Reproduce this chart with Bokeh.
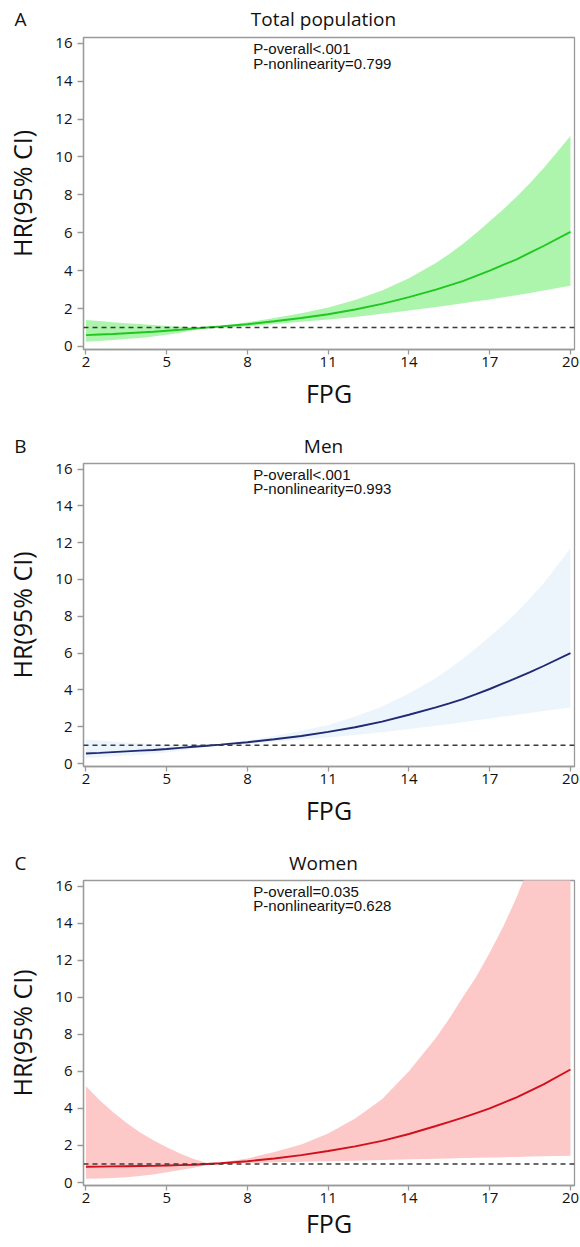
from bokeh.plotting import figure
from bokeh.models import Label, Span
from bokeh.layouts import column
from bokeh.embed import file_html
from bokeh.resources import INLINE

# ---- data ----
fpg = [2, 2.5, 3, 3.5, 4, 4.5, 5, 5.5, 6, 6.5, 7, 8, 9, 10, 11, 12, 13, 14,
       15, 15.5, 16, 16.5, 17, 17.5, 18, 18.5, 19, 20]

total_hr = [0.60, 0.63, 0.66, 0.70, 0.74, 0.78, 0.83, 0.88, 0.94, 1.00, 1.05, 1.17, 1.33, 1.50, 1.70, 1.95, 2.25, 2.60,
            3.00, 3.22, 3.45, 3.72, 4.00, 4.30, 4.60, 4.95, 5.30, 6.05]
total_lo = [0.25, 0.29, 0.34, 0.39, 0.45, 0.53, 0.62, 0.73, 0.85, 0.98, 1.02, 1.07, 1.18, 1.30, 1.42, 1.56, 1.72, 1.90,
            2.08, 2.18, 2.28, 2.38, 2.48, 2.59, 2.70, 2.82, 2.95, 3.20]
total_hi = [1.40, 1.34, 1.28, 1.23, 1.18, 1.13, 1.08, 1.05, 1.02, 1.01, 1.08, 1.28, 1.50, 1.75, 2.05, 2.45, 2.95, 3.60,
            4.40, 4.88, 5.40, 5.98, 6.60, 7.23, 7.90, 8.63, 9.40, 11.10]

men_hr = [0.55, 0.58, 0.62, 0.66, 0.70, 0.74, 0.79, 0.85, 0.91, 0.97, 1.03, 1.16, 1.32, 1.50, 1.72, 1.97, 2.28, 2.65,
          3.05, 3.27, 3.50, 3.77, 4.05, 4.35, 4.65, 4.97, 5.30, 6.00]
men_lo = [0.30, 0.34, 0.38, 0.42, 0.47, 0.53, 0.60, 0.70, 0.82, 0.93, 0.99, 1.07, 1.18, 1.30, 1.42, 1.55, 1.70, 1.88,
          2.05, 2.15, 2.25, 2.35, 2.45, 2.55, 2.65, 2.75, 2.85, 3.05]
men_hi = [1.30, 1.25, 1.20, 1.15, 1.10, 1.06, 1.02, 1.01, 1.00, 1.01, 1.07, 1.26, 1.50, 1.78, 2.10, 2.55, 3.10, 3.80,
          4.65, 5.15, 5.70, 6.28, 6.90, 7.53, 8.20, 8.98, 9.80, 11.70]

women_hr = [0.85, 0.86, 0.87, 0.88, 0.89, 0.90, 0.92, 0.94, 0.96, 1.00, 1.04, 1.15, 1.30, 1.48, 1.70, 1.95, 2.25, 2.62,
            3.05, 3.27, 3.50, 3.75, 4.00, 4.30, 4.60, 4.95, 5.30, 6.10]
women_lo = [0.20, 0.22, 0.25, 0.29, 0.35, 0.44, 0.55, 0.67, 0.80, 0.95, 1.00, 1.05, 1.09, 1.12, 1.15, 1.18, 1.22, 1.25,
            1.28, 1.30, 1.32, 1.34, 1.35, 1.37, 1.38, 1.40, 1.42, 1.45]
women_hi = [5.20, 4.45, 3.80, 3.22, 2.72, 2.28, 1.90, 1.57, 1.27, 1.05, 1.08, 1.30, 1.65, 2.05, 2.65, 3.45, 4.50, 6.00,
            7.80, 8.85, 10.0, 11.1, 12.4, 13.8, 15.4, 17.2, 19.3, 24.0]

x_ticks = [2, 5, 8, 11, 14, 17, 20]
y_ticks = [0, 2, 4, 6, 8, 10, 12, 14, 16]

panel_letters = ["A", "B", "C"]
panel_titles = ["Total population", "Men", "Women"]
p_overall = ["P-overall<.001", "P-overall<.001", "P-overall=0.035"]
p_nonlin = ["P-nonlinearity=0.799", "P-nonlinearity=0.993", "P-nonlinearity=0.628"]

FONT = "Open Sans"
NOTE_FONT = "Liberation Sans"
GRAY = "#9a9a9a"
INK = "#111111"
W = 580
LEFT = 83
RIGHT = 6


def header(letter, title, height, top):
    fh = height - top
    h = figure(width=W, height=height, x_range=(LEFT, W - RIGHT), y_range=(0, fh),
               output_backend="svg", toolbar_location=None,
               x_axis_location=None, y_axis_location="left",
               min_border_left=LEFT, min_border_right=RIGHT,
               min_border_top=top, min_border_bottom=0)
    h.outline_line_color = None
    h.grid.visible = False
    ax = h.yaxis
    ax.ticker = []
    ax.axis_line_color = None
    ax.major_tick_line_color = None
    ax.minor_tick_line_color = None
    ax.major_tick_out = 0
    ax.major_tick_in = 0
    ax.major_label_text_font_size = "0px"
    ax.major_label_standoff = 0
    ax.axis_label = letter
    ax.axis_label_orientation = "horizontal"
    ax.axis_label_standoff = 57
    ax.axis_label_text_font = FONT
    ax.axis_label_text_font_size = "19px"
    ax.axis_label_text_font_style = "normal"
    ax.axis_label_text_color = INK
    h.add_layout(Label(x=323, y=fh / 2, text=title, text_font=FONT,
                       text_font_size="19px", text_baseline="middle",
                       text_align="center", text_color=INK))
    return h


def panel(pov, pnl, hr, lo, hi, line_color, band_color, height, top, bottom, xlab_standoff):
    p = figure(width=W, height=height, x_range=(1.91, 20.15), y_range=(-0.16, 16.3),
               output_backend="svg", toolbar_location=None,
               min_border_left=LEFT, min_border_right=RIGHT,
               min_border_top=top, min_border_bottom=bottom)
    p.xgrid.visible = False
    p.ygrid.visible = False
    p.outline_line_color = GRAY
    p.outline_line_width = 1.3

    p.varea(x=fpg, y1=lo, y2=hi, fill_color=band_color, fill_alpha=1.0)
    p.add_layout(Span(location=1, dimension="width", line_color="#3a3a3a",
                      line_dash="5 4", line_width=1.5))
    p.line(x=fpg, y=hr, line_color=line_color, line_width=1.9)

    for ax in (p.xaxis, p.yaxis):
        ax.axis_line_color = GRAY
        ax.axis_line_width = 1.3
        ax.major_tick_line_color = GRAY
        ax.major_tick_line_width = 1.3
        ax.minor_tick_line_color = None
        ax.major_tick_in = 0
        ax.major_label_text_font = FONT
        ax.major_label_text_font_size = "15px"
        ax.major_label_text_color = INK
        ax.axis_label_text_font = FONT
        ax.axis_label_text_font_size = "25px"
        ax.axis_label_text_font_style = "normal"
        ax.axis_label_text_color = INK
    p.xaxis.major_tick_out = 5
    p.yaxis.major_tick_out = 6
    p.xaxis.ticker = x_ticks
    p.yaxis.ticker = y_ticks
    p.xaxis.axis_label = "FPG"
    p.yaxis.axis_label = "HR(95% CI)"
    p.xaxis.axis_label_standoff = xlab_standoff
    p.yaxis.axis_label_standoff = 13
    p.xaxis.major_label_standoff = 2
    p.yaxis.major_label_standoff = 5

    p.add_layout(Label(x=8.22, y=15.72, text=pov, text_font=NOTE_FONT,
                       text_font_size="15px", text_baseline="middle",
                       text_align="left", text_color=INK))
    p.add_layout(Label(x=8.22, y=14.93, text=pnl, text_font=NOTE_FONT,
                       text_font_size="15px", text_baseline="middle",
                       text_align="left", text_color=INK))
    return p


hA = header(panel_letters[0], panel_titles[0], 32, 4)
pA = panel(p_overall[0], p_nonlin[0], total_hr, total_lo, total_hi,
           "#1fc81f", "#adf5ad", 400, 5, 83, 6)
hB = header(panel_letters[1], panel_titles[1], 26, 0)
pB = panel(p_overall[1], p_nonlin[1], men_hr, men_lo, men_hi,
           "#1f2a72", "#edf5fc", 391, 5, 83, 6)
hC = header(panel_letters[2], panel_titles[2], 26, 0)
pC = panel(p_overall[2], p_nonlin[2], women_hr, women_lo, women_hi,
           "#d0101a", "#fcc8c8", 372, 5, 62, 0)

layout = column(hA, pA, hB, pB, hC, pC, spacing=0)
open("out.html", "w").write(file_html(layout, INLINE))
